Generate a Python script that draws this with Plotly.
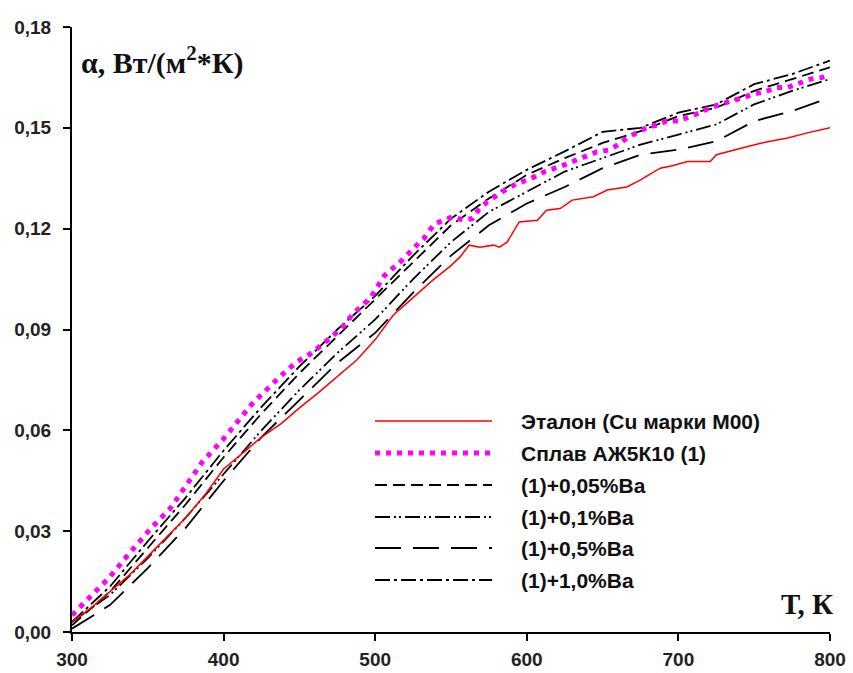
import plotly.graph_objects as go

# ---------------- data ----------------
T_red = [300, 312, 325, 338, 350, 362, 375, 388, 400, 412, 425, 438, 450, 462, 475, 488, 500,
         512, 525, 538, 550, 556, 562, 569, 578, 582, 587, 595, 607, 613, 622, 630, 644, 653,
         666, 675, 688, 696, 706, 721, 725, 736, 747, 758, 772, 785, 800]
v_red = [0.003, 0.007, 0.012, 0.017, 0.0225, 0.028, 0.034, 0.041, 0.0485, 0.053, 0.058, 0.062,
         0.0667, 0.071, 0.076, 0.081, 0.087, 0.0943, 0.0995, 0.1047, 0.109, 0.1116, 0.1151,
         0.1145, 0.1151, 0.1145, 0.116, 0.122, 0.1225, 0.1255, 0.126, 0.1285, 0.1295, 0.1315,
         0.1324, 0.1345, 0.138, 0.1387, 0.140, 0.140, 0.142, 0.1434, 0.1446, 0.1458, 0.147,
         0.1485, 0.150]

T_pink = [300, 312, 325, 338, 351, 365, 376, 386, 400, 406, 419, 437, 448, 459, 469, 478, 485,
          497, 506, 518, 526, 532, 539, 551, 558, 564, 568, 574, 584, 594, 601, 612, 625, 633,
          640, 646, 654, 660, 666, 673, 679, 687, 692, 700, 706, 714, 721, 727, 735, 743, 749,
          757, 765, 772, 779, 787, 795, 800]
v_pink = [0.005, 0.0104, 0.0164, 0.0235, 0.0303, 0.0369, 0.0443, 0.0506, 0.0575, 0.061, 0.068,
          0.0759, 0.0803, 0.0833, 0.0869, 0.0904, 0.0945, 0.0995, 0.106, 0.1107, 0.1145, 0.117,
          0.1214, 0.1235, 0.1226, 0.123, 0.1255, 0.128, 0.131, 0.1336, 0.1345, 0.137, 0.139,
          0.1405, 0.142, 0.1428, 0.1434, 0.1449, 0.147, 0.1484, 0.150, 0.151, 0.152, 0.152,
          0.153, 0.1545, 0.156, 0.157, 0.158, 0.159, 0.160, 0.1607, 0.162, 0.162, 0.163,
          0.1645, 0.165, 0.1657]

T_black = [300, 325, 350, 375, 400, 425, 450, 475, 500, 525, 550, 575, 600, 625, 650, 675,
           700, 725, 750, 775, 800]
v_ba005 = [0.002, 0.012, 0.025, 0.038, 0.052, 0.065, 0.077, 0.088, 0.099, 0.110, 0.121, 0.129,
           0.136, 0.141, 0.1455, 0.149, 0.1535, 0.156, 0.161, 0.1645, 0.168]
v_ba01 = [0.003, 0.011, 0.022, 0.034, 0.047, 0.060, 0.072, 0.083, 0.093, 0.105, 0.116, 0.125,
          0.131, 0.137, 0.141, 0.145, 0.148, 0.151, 0.157, 0.161, 0.1645]
v_ba05 = [0.001, 0.008, 0.019, 0.031, 0.045, 0.058, 0.069, 0.080, 0.089, 0.101, 0.112, 0.121,
          0.1275, 0.1324, 0.138, 0.142, 0.1435, 0.146, 0.152, 0.155, 0.159]
v_ba10 = [0.003, 0.0135, 0.027, 0.040, 0.054, 0.067, 0.079, 0.090, 0.100, 0.112, 0.123, 0.131,
          0.1375, 0.143, 0.1488, 0.150, 0.1545, 0.157, 0.163, 0.166, 0.170]

names = ["Эталон (Cu марки М00)", "Сплав АЖ5К10 (1)", "(1)+0,05%Ba", "(1)+0,1%Ba",
         "(1)+0,5%Ba", "(1)+1,0%Ba"]
x_ticks = [300, 400, 500, 600, 700, 800]
y_ticks = [0.00, 0.03, 0.06, 0.09, 0.12, 0.15, 0.18]

# ---------------- styles ----------------
styles = [
    dict(color="#ff0000", width=1.5, dash="solid"),
    dict(color="#ff00ff", width=5, dash="5px,6px"),
    dict(color="#000000", width=1.8, dash="12px,6px"),
    dict(color="#000000", width=1.8, dash="15px,4px,2px,3px,2px,4px"),
    dict(color="#000000", width=1.8, dash="26px,12px"),
    dict(color="#000000", width=1.8, dash="15px,4px,3px,4px"),
]
series = [(T_red, v_red), (T_pink, v_pink), (T_black, v_ba005), (T_black, v_ba01),
          (T_black, v_ba05), (T_black, v_ba10)]

fig = go.Figure()
order = [2, 3, 4, 5, 0, 1]
for i in order:
    xs, ys = series[i]
    fig.add_trace(go.Scatter(x=xs, y=ys, mode="lines", name=names[i],
                             line=styles[i], showlegend=False))

# ---------------- layout ----------------
W, H = 853, 673
L, R, T, B = 72, 23, 27, 41
pw, ph = W - L - R, H - T - B

def px_x(p):
    return (p - L) / pw

def px_y(p):
    return (H - B - p) / ph

shapes = []
annotations = []
leg_rows = [421, 453, 485, 517, 548, 580]
for k, yy in enumerate(leg_rows):
    st = styles[k]
    shapes.append(dict(type="line", xref="paper", yref="paper",
                       x0=px_x(375), x1=px_x(492), y0=px_y(yy), y1=px_y(yy),
                       line=dict(color=st["color"], width=st["width"], dash=st["dash"])))
    annotations.append(dict(xref="paper", yref="paper", x=px_x(519), y=px_y(yy),
                            xanchor="left", yanchor="middle", showarrow=False,
                            text=names[k],
                            font=dict(family="Liberation Sans, Arial", size=21,
                                      color="#111", weight="bold")))

annotations.append(dict(xref="paper", yref="paper", x=px_x(79), y=px_y(60),
                        xanchor="left", yanchor="middle", showarrow=False,
                        text="α, Вт/(м<sup>2</sup>*К)",
                        font=dict(family="Liberation Serif, Times New Roman", size=30,
                                  color="#111", weight="bold")))
annotations.append(dict(xref="paper", yref="paper", x=px_x(835), y=px_y(604),
                        xanchor="right", yanchor="middle", showarrow=False,
                        text="Т, К",
                        font=dict(family="Liberation Serif, Times New Roman", size=29,
                                  color="#111", weight="bold")))

tickfont = dict(family="Liberation Sans, Arial", size=19, color="#222", weight="bold")
fig.update_layout(
    width=W, height=H,
    margin=dict(l=L, r=R, t=T, b=B, pad=0, autoexpand=False),
    paper_bgcolor="white", plot_bgcolor="white",
    separators=", ",
    shapes=shapes, annotations=annotations,
    xaxis=dict(range=[300, 800], tickvals=x_ticks, ticks="outside", ticklen=7, tickwidth=2,
               tickcolor="black", showline=True, linecolor="black", linewidth=2,
               showgrid=False, zeroline=False, tickfont=tickfont, automargin=False,
               ticklabelstandoff=2),
    yaxis=dict(range=[0, 0.18], tickvals=y_ticks, tickformat=".2f", ticks="outside",
               ticklen=7, tickwidth=2, tickcolor="black", showline=True, linecolor="black",
               linewidth=2, showgrid=False, zeroline=False, tickfont=tickfont,
               automargin=False, ticklabelstandoff=8),
)

fig.write_html("out.html")
